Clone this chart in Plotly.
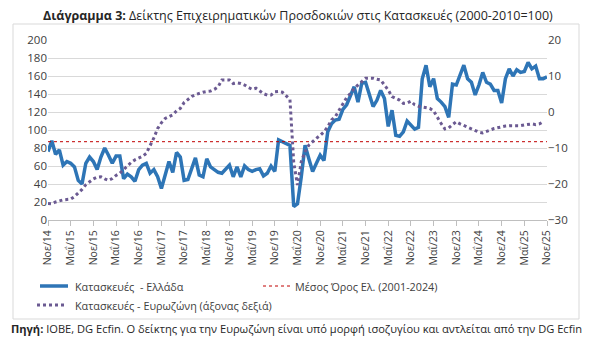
import plotly.graph_objects as go

# ---- data ----
greek_months = ["Ιαν", "Φεβ", "Μαρ", "Απρ", "Μαΐ", "Ιουν", "Ιουλ", "Αυγ", "Σεπ", "Οκτ", "Νοε", "Δεκ"]
months = []
y, m = 2014, 11
for _ in range(133):
    months.append(f"{greek_months[m-1]}/{y % 100:02d}")
    m += 1
    if m > 12:
        m = 1
        y += 1

tick_labels = ["Νοε/14", "Μαΐ/15", "Νοε/15", "Μαΐ/16", "Νοε/16", "Μαΐ/17", "Νοε/17",
               "Μαΐ/18", "Νοε/18", "Μαΐ/19", "Νοε/19", "Μαΐ/20", "Νοε/20", "Μαΐ/21",
               "Νοε/21", "Μαΐ/22", "Νοε/22", "Μαΐ/23", "Νοε/23", "Μαΐ/24", "Νοε/24",
               "Μαΐ/25", "Νοε/25"]

greece = [76, 88, 73, 78, 61, 65, 63, 59, 44, 40,
          63, 70, 65, 56, 70, 80, 72, 63, 71, 71,
          46, 51, 48, 43, 56, 61, 63, 52, 56, 48,
          35, 52, 65, 53, 75, 70, 44, 45, 57, 69,
          50, 48, 68, 59, 56, 53, 52, 57, 61, 48,
          59, 48, 60, 56, 54, 56, 57, 49, 52, 60,
          54, 89, 87, 85, 83, 15, 18, 48, 83, 68,
          54, 63, 72, 66, 98, 107, 111, 112, 123, 128,
          139, 148, 131, 152, 153, 139, 126, 133, 144, 135,
          104, 122, 94, 93, 98, 110, 105, 101, 103, 157,
          172, 148, 157, 135, 131, 126, 114, 151, 150, 161,
          172, 157, 153, 139, 150, 164, 153, 151, 144, 144,
          130, 157, 168, 160, 167, 164, 165, 175, 168, 171,
          157, 157, 159]

eurozone = [-25.4, -25.5, -25.0, -24.6, -24.4, -24.3, -24.2, -23.5, -22.6, -21.5,
            -20.2, -19.3, -18.6, -18.1, -18.0, -18.6, -19.0, -18.5, -17.6, -17.0,
            -16.0, -15.0, -14.0, -13.3, -12.9, -12.3, -11.5, -9.5, -7.2, -4.6,
            -3.0, -1.8, -1.2, -0.8, 0.3, 1.0, 2.6, 3.5, 4.3, 4.8,
            5.2, 5.5, 5.7, 5.8, 6.3, 7.0, 8.9, 8.9, 8.9, 7.9,
            8.1, 7.9, 7.5, 6.8, 6.3, 6.6, 5.9, 5.1, 4.7, 4.7,
            5.6, 5.7, 5.5, 4.4, 3.5, -14.0, -20.3, -13.8, -11.0, -9.2,
            -8.2, -7.3, -6.5, -5.5, -4.1, -2.2, -1.3, 0.6, 2.5, 4.0,
            5.2, 6.6, 7.5, 8.4, 9.4, 9.4, 9.4, 9.1, 8.9, 7.5,
            6.1, 4.3, 3.8, 3.3, 2.4, 2.5, 3.0, 2.0, 1.6, 1.4,
            1.3, 1.0, 0.3, -1.6, -3.2, -4.7, -4.4, -3.5, -2.7, -3.3,
            -3.8, -4.3, -4.8, -5.2, -5.6, -5.8, -5.5, -5.0, -4.6, -4.3,
            -4.0, -3.9, -3.8, -3.8, -3.9, -3.8, -3.6, -3.5, -3.3, -3.5,
            -3.3, -2.7]

mean_value = 87

name_gr = "Κατασκευές  - Ελλάδα"
name_mean = "Μέσος Όρος Ελ. (2001-2024)"
name_ez = "Κατασκευές - Ευρωζώνη (άξονας δεξιά)"

FONT = "Open Sans"
TXT = "#404040"
BLUE = "#2E75B6"
RED = "#C00000"
PURPLE = "#6B5A92"

# The page body has an 8px default margin: size the figure to fit the window.
OFF = 8
FW, FH = 600 - OFF, 355 - OFF
# plot area in window pixels: x 48..547, y 40..220
L, T = 48 - OFF, 40 - OFF
PW, PH = 499, 180
R = FW - L - PW
B = FH - T - PH


def px(xs):
    """window x pixel -> paper x"""
    return (xs - OFF - L) / PW


def py(ys):
    """window y pixel -> paper y"""
    return (T + PH - (ys - OFF)) / PH


fig = go.Figure()
fig.add_trace(go.Scatter(
    x=months, y=greece, mode="lines", name=name_gr,
    line=dict(color=BLUE, width=3.5)))
fig.add_trace(go.Scatter(
    x=months, y=[mean_value] * len(months), mode="lines", name=name_mean,
    line=dict(color=RED, width=1, dash="dot")))
fig.add_trace(go.Scatter(
    x=months[:len(eurozone)], y=eurozone, mode="lines", yaxis="y2", name=name_ez,
    line=dict(color=PURPLE, width=3, dash="dot")))

fig.update_layout(
    width=FW, height=FH,
    margin=dict(l=L, r=R, t=T, b=B),
    paper_bgcolor="white", plot_bgcolor="white",
    font=dict(family=FONT, size=11, color=TXT),
    showlegend=False,
    xaxis=dict(
        type="category", range=[0, 132], automargin=False,
        tickmode="array", tickvals=tick_labels, ticktext=tick_labels,
        tickangle=-90, showgrid=False,
        showline=True, linecolor="#BFBFBF", linewidth=1,
        ticks="outside", ticklen=5, tickcolor="#BFBFBF",
        tickfont=dict(size=10.5, color=TXT),
    ),
    yaxis=dict(
        range=[0, 200], dtick=20, showgrid=True, gridcolor="#D9D9D9",
        gridwidth=1, zeroline=False, showline=False, ticks="", automargin=False,
        tickfont=dict(size=11.5, color=TXT),
    ),
    yaxis2=dict(
        range=[-30, 20], dtick=10, overlaying="y", side="right", automargin=False,
        showgrid=False, zeroline=False, showline=False, ticks="",
        tickfont=dict(size=11.5, color=TXT),
    ),
)

# outer frame
fig.add_shape(type="rect", xref="paper", yref="paper",
              x0=px(13), x1=px(579), y0=py(319), y1=py(24),
              line=dict(color="#D9D9D9", width=1), fillcolor="rgba(0,0,0,0)",
              layer="below")

# manual legend
legend_items = [
    (name_gr, BLUE, 3.5, "solid", 40, 68, 73, 286),
    (name_mean, RED, 1, "dot", 263, 290, 293, 286),
    (name_ez, PURPLE, 3, "dot", 37, 64, 73, 305),
]
for name, col, w, dash, sx0, sx1, tx, ty in legend_items:
    fig.add_shape(type="line", xref="paper", yref="paper",
                  x0=px(sx0), x1=px(sx1), y0=py(ty), y1=py(ty),
                  line=dict(color=col, width=w, dash=dash))
    fig.add_annotation(xref="paper", yref="paper", x=px(tx), y=py(ty),
                       xanchor="left", yanchor="middle", showarrow=False,
                       text=name, font=dict(family=FONT, size=10.8, color=TXT))

fig.add_annotation(
    xref="paper", yref="paper", x=px(298), y=py(15), xanchor="center", yanchor="middle",
    showarrow=False,
    text="<b>Διάγραμμα 3:</b> Δείκτης Επιχειρηματικών Προσδοκιών στις Κατασκευές (2000-2010=100)",
    font=dict(family=FONT, size=12.5, color="#262626"))

fig.add_annotation(
    xref="paper", yref="paper", x=px(9), y=py(328), xanchor="left", yanchor="middle",
    showarrow=False,
    text="<b>Πηγή:</b> IOBE, DG Ecfin. Ο δείκτης για την Ευρωζώνη είναι υπό μορφή ισοζυγίου και αντλείται από την DG Ecfin",
    font=dict(family=FONT, size=11.1, color="#262626"))

fig.write_html("out.html")
